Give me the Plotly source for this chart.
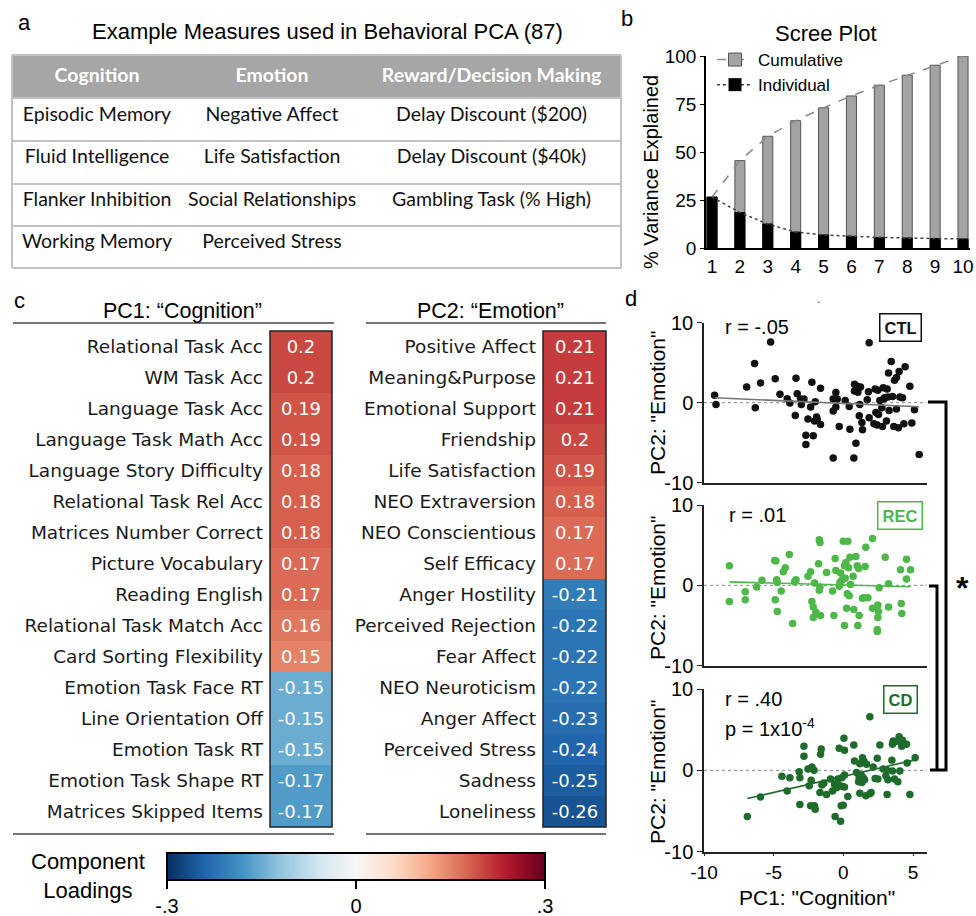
import numpy as np
import plotly.graph_objects as go

W, H = 976, 916


def px(x):
    return x / W


def py(y):
    return 1 - y / H


ARIAL = "Liberation Sans, Arial, sans-serif"
DEJAVU = "DejaVu Sans, sans-serif"
CALIBRI = "Lato, Open Sans, sans-serif"

# ---------------- Panel a: table ----------------
table_headers = ["Cognition", "Emotion", "Reward/Decision Making"]
cognition_measures = ["Episodic Memory", "Fluid Intelligence", "Flanker Inhibition", "Working Memory"]
emotion_measures = ["Negative Affect", "Life Satisfaction", "Social Relationships", "Perceived Stress"]
reward_measures = ["Delay Discount ($200)", "Delay Discount ($40k)", "Gambling Task (% High)", " "]

# ---------------- Panel b: scree ----------------
components = [1, 2, 3, 4, 5, 6, 7, 8, 9, 10]
individual_var = [26.5, 18.5, 12.5, 8.3, 6.8, 6.1, 5.5, 5.2, 4.9, 4.7]
cumulative_var = [26.5, 45.5, 58.2, 66.3, 73.0, 79.2, 84.8, 90.0, 95.2, 100.0]
scree_yticks = [0, 25, 50, 75, 100]

# ---------------- Panel c: loadings ----------------
pc1_labels = ["Relational Task Acc", "WM Task Acc", "Language Task Acc", "Language Task Math Acc",
              "Language Story Difficulty", "Relational Task Rel Acc", "Matrices Number Correct",
              "Picture Vocabulary", "Reading English", "Relational Task Match Acc",
              "Card Sorting Flexibility", "Emotion Task Face RT", "Line Orientation Off",
              "Emotion Task RT", "Emotion Task Shape RT", "Matrices Skipped Items"]
pc1_loadings = [0.2, 0.2, 0.19, 0.19, 0.18, 0.18, 0.18, 0.17, 0.17, 0.16, 0.15,
                -0.15, -0.15, -0.15, -0.17, -0.17]
pc2_labels = ["Positive Affect", "Meaning&Purpose", "Emotional Support", "Friendship",
              "Life Satisfaction", "NEO Extraversion", "NEO Conscientious", "Self Efficacy",
              "Anger Hostility", "Perceived Rejection", "Fear Affect", "NEO Neuroticism",
              "Anger Affect", "Perceived Stress", "Sadness", "Loneliness"]
pc2_loadings = [0.21, 0.21, 0.21, 0.2, 0.19, 0.18, 0.17, 0.17,
                -0.21, -0.22, -0.22, -0.22, -0.23, -0.24, -0.25, -0.26]
cbar_ticks = [-0.3, 0, 0.3]
cbar_ticktext = ["-.3", "0", ".3"]

# ---------------- Panel d: scatter ----------------
ctl_pc1 = [-9.24, -9.14, -6.94, -6.37, -6.32, -5.94, -5.22, -4.89, -4.55, -4.03, -3.84, -3.45, -3.40,
           -3.31, -3.07, -3.02, -2.83, -2.69, -2.69, -2.35, -2.26, -2.16, -2.02, -2.54, -2.07, -1.92,
           -1.88, -1.64, -1.64, -0.73, -0.73, -0.73, -0.54, -0.44, -0.54, -0.30, 0.13, 0.42, 0.47,
           0.75, 0.80, 0.80, 0.90, 0.99, 1.04, 1.14, 1.18, 1.23, 1.33, 1.37, 1.71, 1.80, 1.85, 1.85,
           2.19, 2.28, 2.33, 2.43, 2.47, 2.52, 2.62, 2.76, 2.81, 2.86, 2.90, 2.95, 3.09, 3.14, 3.19,
           3.24, 3.28, 3.43, 3.53, 3.62, 3.67, 3.81, 3.81, 3.95, 4.00, 4.05, 4.24, 4.34, 4.43, 4.77,
           4.91, 5.10, 5.44]
ctl_pc2 = [0.92, -0.21, 1.97, 4.90, -0.63, 2.47, 7.60, 3.00, 1.05, 0.50, -0.04, -1.59, 3.05, 1.13,
           0.46, -0.21, 0.46, -4.06, -5.23, -0.54, 2.55, -4.14, 0.13, -2.05, -2.30, -1.80, -2.13,
           -2.72, 1.80, -1.05, -6.90, 0.46, 1.26, 0.46, -0.54, -2.97, 0.29, -0.46, -3.31, -6.90,
           2.30, 1.46, -5.06, 2.05, 1.30, -1.63, -0.21, 1.97, -2.47, -3.39, 0.38, 1.38, 7.49, -1.88,
           -2.64, 1.72, -1.21, -2.80, 1.55, -1.46, 0.29, -0.63, -2.97, 1.88, 0.46, 0.63, -2.30, 1.72,
           0.71, 3.72, -0.96, 5.15, 0.79, -2.97, 2.80, 3.14, -0.79, -3.14, 3.89, 0.71, 0.63, -2.64,
           4.48, 2.05, -2.55, -0.88, -6.49]

rec_pc1 = [-8.18, -8.18, -7.04, -7.04, -6.22, -5.84, -4.93, -4.84, -4.79, -4.74, -4.74, -4.89, -4.46,
           -4.31, -4.17, -3.88, -3.64, -3.50, -3.40, -2.54, -2.35, -2.26, -2.16, -2.16, -2.07, -1.97,
           -1.78, -1.73, -1.68, -1.68, -1.73, -1.64, -1.21, -0.78, -0.68, -0.59, -0.54, -0.30, -0.25,
           -0.20, -0.11, -0.01, 0.08, 0.08, 0.13, 0.18, 0.23, 0.28, 0.32, 0.37, 0.42, 0.47, 0.51,
           0.70, 0.75, 0.90, 0.99, 1.04, 1.09, 1.13, 1.37, 1.47, 1.56, 1.61, 1.76, 2.09, 2.09, 2.43,
           2.43, 2.47, 2.47, 2.52, 2.57, 3.00, 3.24, 3.24, 4.10, 4.15, 4.19, 4.53, 4.53, 4.82]
rec_pc2 = [2.44, -2.02, -0.79, -1.78, -0.21, 0.62, 3.10, 3.02, 0.70, 0.37, -3.26, -1.78, -0.70, 1.69,
           2.19, 3.84, -4.75, 0.45, 0.70, 1.12, 1.69, -2.02, -2.69, -4.01, 0.29, -3.35, 2.69, 5.66,
           5.33, -0.21, -0.62, -3.76, 1.61, -0.70, -3.76, 3.35, 1.86, -0.12, 0.37, 1.53, 0.62, 5.50,
           2.44, -5.00, 0.87, 2.85, -2.85, -1.03, 5.50, 2.19, -1.28, 3.51, 0.12, 1.12, -3.02, 3.60,
           2.44, -5.00, 2.11, -3.76, -1.61, -1.53, 2.36, 4.75, -1.53, 5.83, -2.85, -5.50, -5.74,
           -2.44, -4.01, -3.26, -0.29, 3.51, 0.21, -2.69, 1.94, -2.27, -3.51, 3.26, 0.79, 1.94]

cd_pc1 = [-6.89, -5.94, -4.41, -4.03, -3.84, -3.17, -3.12, -3.12, -2.83, -2.83, -2.54, -2.45, -2.35,
          -2.31, -2.26, -2.11, -2.07, -2.02, -1.68, -1.64, -1.59, -1.54, -1.40, -1.21, -0.92, -0.78,
          -0.63, -0.59, -0.49, -0.39, -0.30, -0.25, -0.20, -0.16, -0.11, -0.06, -0.01, 0.04, 0.08,
          0.08, 0.08, 0.32, 0.75, 0.80, 0.94, 1.09, 1.13, 1.18, 1.18, 1.28, 1.33, 1.37, 1.42, 1.47,
          1.52, 1.61, 1.66, 1.90, 1.90, 1.99, 2.14, 2.28, 2.43, 2.47, 2.62, 2.86, 3.05, 3.09, 3.14,
          3.19, 3.48, 3.52, 3.52, 3.57, 3.67, 3.81, 3.91, 4.00, 4.05, 4.19, 4.24, 4.53, 4.58, 4.77,
          5.15]
cd_pc2 = [-5.68, -3.29, -0.74, -2.55, -0.91, -0.16, -0.91, -4.20, 2.96, 1.73, 0.16, -1.89, -4.36,
          -1.23, 0.41, 0.00, -4.36, -4.77, -2.72, 1.98, 2.63, -1.81, -1.56, -2.96, -1.07, -2.55,
          -1.73, -5.68, -2.14, -1.07, 2.72, -1.89, -6.26, -4.36, -0.91, -1.98, -4.28, 3.95, -0.58,
          2.47, -2.06, -3.21, 3.13, 1.15, -0.25, -1.40, -0.82, 0.82, -2.80, -0.58, -1.48, 1.56,
          -0.91, 1.15, -1.15, -3.13, 0.74, 6.58, -2.88, -2.72, 0.41, -0.99, 1.48, -1.07, 3.13, 0.16,
          -0.66, 0.08, -2.96, -1.15, 1.23, -0.08, 3.21, 3.62, -1.07, 3.54, -1.40, 4.12, -0.08, 2.96,
          3.70, 3.21, 0.91, -2.96, 1.56]

scatter_xticks = [-10, -5, 0, 5]
scatter_xticktext = ["-10", "-5", "0", "5"]
scatter_yticks = [-10, 0, 10]
scatter_yticktext = ["-10", "0", "10"]
group_names = ["CTL", "REC", "CD"]
group_r = ["r = -.05", "r = .01", "r = .40"]

# ---------------- styles ----------------
RDBU_R = [[0.0, "#053061"], [0.1, "#2166ac"], [0.2, "#4393c3"], [0.3, "#92c5de"],
          [0.4, "#d1e5f0"], [0.5, "#f7f7f7"], [0.6, "#fddbc7"], [0.7, "#f4a582"],
          [0.8, "#d6604d"], [0.9, "#b2182b"], [1.0, "#67001f"]]
C_CTL = "#111111"
C_REC = "#4db848"
C_CD = "#1f6b2c"


def nobreak(items):
    return [s.replace(" ", "\u00a0") for s in items]


fig = go.Figure()

# ---- table ----
fig.add_trace(go.Table(
    domain=dict(x=[px(12), px(621)], y=[py(272), py(55)]),
    columnwidth=[170, 180, 259],
    header=dict(values=[f"<b>{h}</b>" for h in nobreak(table_headers)], fill_color="#a6a6a6",
                font=dict(family=CALIBRI, size=19.5, color="white"), align="center", height=43,
                line=dict(color="#a6a6a6", width=1)),
    cells=dict(values=[nobreak(cognition_measures), nobreak(emotion_measures),
                       nobreak(reward_measures)], fill_color="white",
               font=dict(family=CALIBRI, size=19.5, color="#111111"), align="center",
               height=42.5, line=dict(color="white", width=1)),
))

# ---- scree ----
fig.add_trace(go.Bar(x=components, y=cumulative_var, width=0.36, xaxis="x", yaxis="y",
                     marker=dict(color="#a3a3a3", line=dict(color="#555555", width=1)),
                     showlegend=False, hoverinfo="skip"))
fig.add_trace(go.Bar(x=components, y=individual_var, width=0.36, xaxis="x", yaxis="y",
                     marker=dict(color="black", line=dict(color="black", width=1)),
                     showlegend=False, hoverinfo="skip"))
fig.add_trace(go.Scatter(x=components, y=cumulative_var, mode="lines", xaxis="x", yaxis="y",
                         line=dict(color="#8a8a8a", dash="dash", width=1.5), showlegend=False))
fig.add_trace(go.Scatter(x=components, y=individual_var, mode="lines", xaxis="x", yaxis="y",
                         line=dict(color="#444444", dash="dot", width=1.5), showlegend=False))
fig.add_trace(go.Scatter(x=[None], y=[None], mode="lines+markers", xaxis="x", yaxis="y",
                         name="Cumulative", line=dict(color="#8a8a8a", dash="dash", width=1.5),
                         marker=dict(symbol="square", size=13, color="#a3a3a3",
                                     line=dict(color="#555555", width=1))))
fig.add_trace(go.Scatter(x=[None], y=[None], mode="lines+markers", xaxis="x", yaxis="y",
                         name="Individual", line=dict(color="#444444", dash="dot", width=1.5),
                         marker=dict(symbol="square", size=13, color="black")))

# ---- heatmaps ----
fig.add_trace(go.Heatmap(
    z=[[v] for v in pc1_loadings], x=["PC1"], y=pc1_labels,
    text=[[f"{v:g}"] for v in pc1_loadings], texttemplate="%{text}",
    textfont=dict(family=DEJAVU, size=18, color="white"),
    colorscale=RDBU_R, zmin=-0.3, zmax=0.3, xaxis="x2", yaxis="y2", hoverinfo="skip",
    colorbar=dict(orientation="h", x=px(356), xanchor="center", y=py(853), yanchor="top",
                  len=378, lenmode="pixels", thickness=27, thicknessmode="pixels",
                  xpad=0, ypad=0, outlinewidth=2, outlinecolor="black",
                  tickvals=cbar_ticks, ticktext=cbar_ticktext, ticks="outside", ticklen=8,
                  tickwidth=2, tickcolor="black",
                  tickfont=dict(family=ARIAL, size=20, color="black")),
))
fig.add_trace(go.Heatmap(
    z=[[v] for v in pc2_loadings], x=["PC2"], y=pc2_labels,
    text=[[f"{v:g}"] for v in pc2_loadings], texttemplate="%{text}",
    textfont=dict(family=DEJAVU, size=18, color="white"),
    colorscale=RDBU_R, zmin=-0.3, zmax=0.3, xaxis="x3", yaxis="y3", hoverinfo="skip",
    showscale=False,
))

# ---- scatters ----
groups = [(ctl_pc1, ctl_pc2, C_CTL, "#777777", "x4", "y4"),
          (rec_pc1, rec_pc2, C_REC, C_REC, "x5", "y5"),
          (cd_pc1, cd_pc2, C_CD, C_CD, "x6", "y6")]
for gx, gy, col, lcol, xa, ya in groups:
    fig.add_trace(go.Scatter(x=gx, y=gy, mode="markers", xaxis=xa, yaxis=ya, showlegend=False,
                             marker=dict(size=7.5, color=col), hoverinfo="skip"))
    slope, icpt = np.polyfit(gx, gy, 1)
    xs = np.array([min(gx), max(gx)])
    fig.add_trace(go.Scatter(x=xs, y=slope * xs + icpt, mode="lines", xaxis=xa, yaxis=ya,
                             showlegend=False, line=dict(color=lcol, width=1.6), hoverinfo="skip"))

# ---------------- layout ----------------
tick_font = dict(family=ARIAL, size=19, color="black")
sc_font = dict(family=ARIAL, size=20, color="black")
label_font = dict(family=DEJAVU, size=18.5, color="#1a1a1a")

layout = dict(
    template="none",
    width=W, height=H, margin=dict(l=0, r=0, t=0, b=0, pad=0, autoexpand=False),
    paper_bgcolor="white", plot_bgcolor="white", barmode="overlay",
    font=dict(family=ARIAL, color="black"),
    showlegend=True,
    legend=dict(x=px(712), y=py(42), xanchor="left", yanchor="top", bgcolor="rgba(0,0,0,0)",
                font=dict(family=ARIAL, size=17, color="black"), tracegroupgap=0, itemwidth=36,
                borderwidth=0),
    xaxis=dict(domain=[px(706), px(970)], range=[0.785, 10.25], tickvals=components,
               showline=True, linecolor="black", linewidth=1.5, ticks="", tickfont=tick_font,
               showgrid=False, zeroline=False, anchor="y"),
    yaxis=dict(domain=[py(248), py(56)], range=[0, 100], tickvals=scree_yticks, showline=True,
               linecolor="black", linewidth=1.5, ticks="outside", ticklen=4, tickcolor="black",
               tickfont=tick_font, showgrid=False, zeroline=False, anchor="x"),
    xaxis2=dict(domain=[px(270), px(332)], visible=False, anchor="y2"),
    yaxis2=dict(domain=[py(827), py(331)], autorange="reversed", type="category", anchor="x2",
                ticks="", showline=False, showgrid=False, tickfont=label_font,
                ticklabelstandoff=6),
    xaxis3=dict(domain=[px(543), px(606)], visible=False, anchor="y3"),
    yaxis3=dict(domain=[py(827), py(331)], autorange="reversed", type="category", anchor="x3",
                ticks="", showline=False, showgrid=False, tickfont=label_font,
                ticklabelstandoff=6),
)
sc_domains = {"4": (482.7, 322.7), "5": (665.7, 505), "6": (851.7, 689)}
for k, (b, t) in sc_domains.items():
    last = k == "6"
    layout[f"xaxis{k}"] = dict(domain=[px(704), px(927)], range=[-10, 6], anchor=f"y{k}",
                               showline=True, linecolor="#222222", linewidth=1.5,
                               tickvals=scatter_xticks, ticktext=scatter_xticktext,
                               ticks="outside" if last else "",
                               ticklen=3, tickcolor="#222222", showticklabels=last,
                               tickfont=dict(family=ARIAL, size=19, color="black"),
                               showgrid=False, zeroline=False)
    layout[f"yaxis{k}"] = dict(domain=[py(b), py(t)], range=[-10, 10], anchor=f"x{k}",
                               showline=True, linecolor="#222222", linewidth=1.5,
                               tickvals=scatter_yticks, ticktext=scatter_yticktext,
                               ticks="outside", ticklen=5,
                               tickcolor="#222222", tickfont=sc_font, showgrid=False,
                               zeroline=False)
fig.update_layout(**layout)

# ---------------- shapes ----------------
shapes = []
for yy in [55, 98, 141, 184, 226, 268]:
    shapes.append(dict(type="line", xref="paper", yref="paper", x0=px(12), x1=px(621),
                       y0=py(yy), y1=py(yy), line=dict(color="#c2c2c2", width=2)))
for xx in [12, 621]:
    shapes.append(dict(type="line", xref="paper", yref="paper", x0=px(xx), x1=px(xx),
                       y0=py(55), y1=py(268), line=dict(color="#c2c2c2", width=2)))
for x0, x1 in [(13, 334), (366, 606)]:
    for yy in [323, 834]:
        shapes.append(dict(type="line", xref="paper", yref="paper", x0=px(x0), x1=px(x1),
                           y0=py(yy), y1=py(yy), line=dict(color="#444444", width=1.5)))
for x0, x1 in [(270, 332), (543, 606)]:
    shapes.append(dict(type="rect", xref="paper", yref="paper", x0=px(x0), x1=px(x1),
                       y0=py(827), y1=py(331), line=dict(color="#222222", width=1.5)))
for k in ["4", "5", "6"]:
    shapes.append(dict(type="line", xref=f"x{k} domain", yref=f"y{k}", x0=0, x1=1, y0=0, y1=0,
                       line=dict(color="#888888", width=1, dash="dot"), layer="below"))
shapes.append(dict(type="path", xref="paper", yref="paper",
                   path=f"M {px(928)},{py(402)} L {px(946)},{py(402)} L {px(946)},{py(770)} L {px(930)},{py(770)}",
                   line=dict(color="black", width=3)))
shapes.append(dict(type="path", xref="paper", yref="paper",
                   path=f"M {px(929)},{py(586)} L {px(937)},{py(586)} L {px(937)},{py(770)}",
                   line=dict(color="black", width=3)))
fig.update_layout(shapes=shapes)

# ---------------- annotations ----------------
ann = []


def text(x, y, s, size, family=ARIAL, color="black", xanchor="center", angle=0, **kw):
    ann.append(dict(x=px(x), y=py(y), xref="paper", yref="paper", text=s, showarrow=False,
                    xanchor=xanchor, yanchor="middle", textangle=angle,
                    font=dict(family=family, size=size, color=color), **kw))


text(24, 22, "a", 22)
text(627, 19, "b", 22)
text(19, 300, "c", 22)
text(631, 298, "d", 22)
text(327, 32, "Example Measures used in Behavioral PCA (87)", 22)
text(826, 33, "Scree Plot", 22)
text(651, 172, "% Variance Explained", 20, angle=-90)
text(182, 311, "PC1: \u201cCognition\u201d", 21.5)
text(491, 311, "PC2: \u201cEmotion\u201d", 21.5)
text(88, 876, "Component<br>Loadings", 22)
text(818, 299, ".", 12, color="#333333")
for yc in [403, 588, 772]:
    text(657, yc, 'PC2: "Emotion"', 21, angle=-90)
text(817, 897, 'PC1: "Cognition"', 21)
text(723, 327, group_r[0], 20, xanchor="left")
text(727, 515, group_r[1], 20, xanchor="left")
text(723, 699, group_r[2], 20, xanchor="left")
text(723, 727, "p = 1x10<sup>-4</sup>", 20, xanchor="left")
for (cx, cy), name, col in zip([(900, 327), (900, 515), (900, 699)], group_names,
                               [C_CTL, C_REC, C_CD]):
    text(cx, cy, f"<b>{name}</b>", 16.5, color=col, bordercolor=col, borderwidth=1.5,
         borderpad=4)
text(962, 588, "<b>*</b>", 32)
fig.update_layout(annotations=ann)

fig.write_html("out.html", config={"displayModeBar": False},
               post_script="document.body.style.margin='0';document.body.style.padding='0';")
